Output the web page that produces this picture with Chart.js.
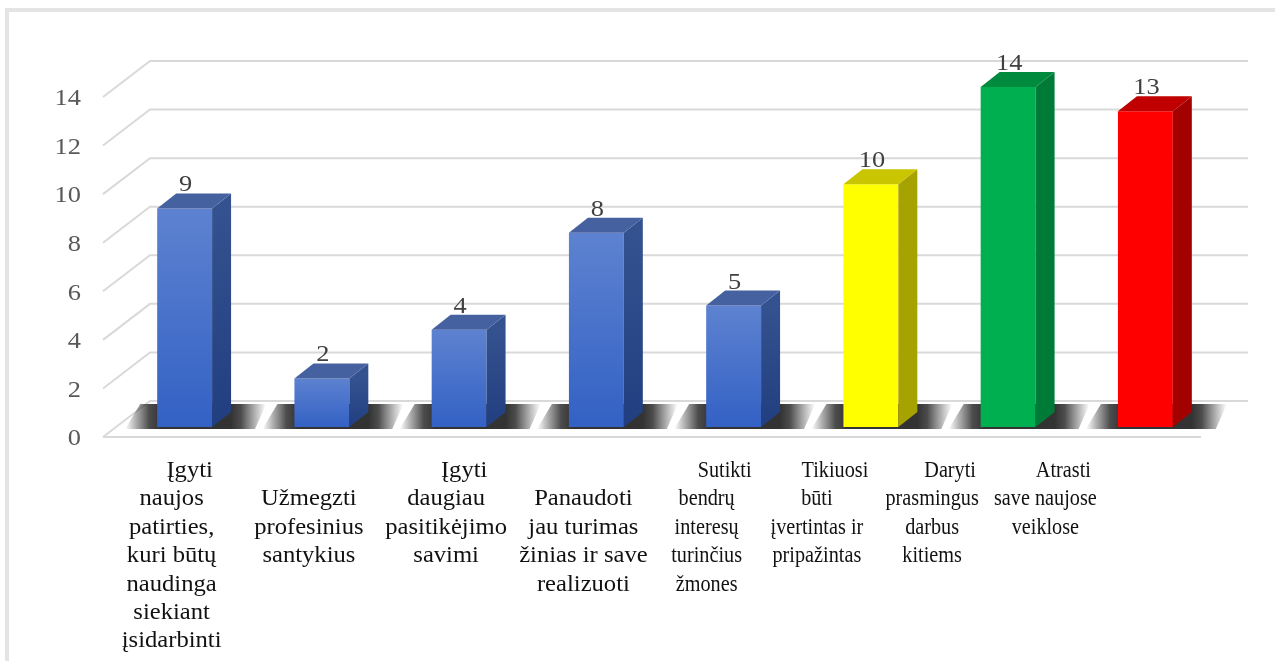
<!DOCTYPE html>
<html>
<head>
<meta charset="utf-8">
<script src="https://cdn.jsdelivr.net/npm/chart.js@4.4.0/dist/chart.umd.min.js"></script>
<style>
  html, body { margin: 0; padding: 0; background: #fff; }
  canvas { display: block; }
</style>
</head>
<body>
<canvas id="myChart" width="1275" height="661"></canvas>
<script>
const categories = [
  ['Įgyti', 'naujos', 'patirties,', 'kuri būtų', 'naudinga', 'siekiant', 'įsidarbinti'],
  ['Užmegzti', 'profesinius', 'santykius'],
  ['Įgyti', 'daugiau', 'pasitikėjimo', 'savimi'],
  ['Panaudoti', 'jau turimas', 'žinias ir save', 'realizuoti'],
  ['Sutikti', 'bendrų', 'interesų', 'turinčius', 'žmones'],
  ['Tikiuosi', 'būti', 'įvertintas ir', 'pripažintas'],
  ['Daryti', 'prasmingus', 'darbus', 'kitiems'],
  ['Atrasti', 'save naujose', 'veiklose']
]
const answers = [9, 2, 4, 8, 5, 10, 14, 13]
const yTicks = [0, 2, 4, 6, 8, 10, 12, 14]

// colours for the fake 3d bars
const blue = { front: ['#5d82d0', '#3361c4'], side: ['#34528f', '#213f80'], top: '#46619f' }
const yellow = { front: ['#ffff00', '#ffff00'], side: ['#a6a300', '#a6a300'], top: '#c9c500' }
const green = { front: ['#00b050', '#00b050'], side: ['#007a37', '#007a37'], top: '#008a3e' }
const red = { front: ['#ff0000', '#ff0000'], side: ['#a30000', '#a30000'], top: '#c00000' }
const barStyles = [blue, blue, blue, blue, blue, yellow, green, red]

const serif = "'Liberation Serif', 'Times New Roman', serif"
const DEPTH = { dx: 19, dy: 15 }
const FRONT = { dx: -13, dy: 10 }
const BACK = { dx: 34, dy: -26 }

const frontFill = c => {
  const chart = c.chart
  const s = barStyles[c.dataIndex] || blue
  if (c.type !== 'data' || !chart.chartArea) return s.front[1]
  const top = chart.scales.y.getPixelForValue(answers[c.dataIndex])
  const base = chart.scales.y.getPixelForValue(0)
  const g = chart.ctx.createLinearGradient(0, top, 0, base)
  g.addColorStop(0, s.front[0])
  g.addColorStop(1, s.front[1])
  return g
}

// text stretched sideways, like the original picture
const wideText = (ctx, text, x, y, stretch) => {
  ctx.save()
  ctx.translate(x, y)
  ctx.scale(stretch, 1)
  ctx.fillText(text, 0, 0)
  ctx.restore()
}

const scene3d = {
  id: 'scene3d',
  beforeDraw (chart) {
    const ctx = chart.ctx
    ctx.save()
    ctx.fillStyle = '#e4e4e4'
    ctx.fillRect(5, 8, 1270, 4)
    ctx.fillRect(5, 8, 4, 653)
    ctx.restore()
  },
  beforeDatasetsDraw (chart) {
    const { ctx, chartArea: a, scales: { y } } = chart
    const y0 = y.getPixelForValue(0)

    // walls and floor
    ctx.save()
    ctx.strokeStyle = '#d9d9d9'
    ctx.lineWidth = 2
    yTicks.forEach(v => {
      const py = y.getPixelForValue(v)
      ctx.beginPath()
      ctx.moveTo(a.left + FRONT.dx, py + FRONT.dy)
      ctx.lineTo(a.left + BACK.dx, py + BACK.dy)
      ctx.lineTo(a.right + BACK.dx, py + BACK.dy)
      ctx.stroke()
    })
    ctx.beginPath()
    ctx.moveTo(a.left + FRONT.dx, y0 + FRONT.dy)
    ctx.lineTo(a.right + FRONT.dx, y0 + FRONT.dy)
    ctx.stroke()
    ctx.restore()

    // shadows on the floor, faded sideways with a gradient
    const meta = chart.getDatasetMeta(0)
    const top = y0 + BACK.dy + 3
    const bottom = y0 + 2
    ctx.save()
    meta.data.forEach(bar => {
      const l = bar.x - bar.width / 2
      const r = bar.x + bar.width / 2 + DEPTH.dx
      const x0 = l - 32
      const x1 = r + 35
      const g = ctx.createLinearGradient(x0, 0, x1, 0)
      const p = v => (v - x0) / (x1 - x0)
      g.addColorStop(0, 'rgba(60,60,60,0)')
      g.addColorStop(p(l - 20), 'rgba(55,55,55,0.45)')
      g.addColorStop(p(l - 8), 'rgba(45,45,45,0.85)')
      g.addColorStop(p(l + 4), 'rgba(40,40,40,0.95)')
      g.addColorStop(p(r), 'rgba(40,40,40,0.95)')
      g.addColorStop(p(r + 10), 'rgba(45,45,45,0.85)')
      g.addColorStop(p(r + 22), 'rgba(55,55,55,0.45)')
      g.addColorStop(1, 'rgba(60,60,60,0)')
      ctx.fillStyle = g
      ctx.beginPath()
      ctx.moveTo(l - 32, bottom)
      ctx.lineTo(r + 24, bottom)
      ctx.lineTo(r + 35, top)
      ctx.lineTo(l - 17, top)
      ctx.closePath()
      ctx.fill()
    })
    ctx.restore()
  },
  afterDatasetsDraw (chart, args, opts) {
    const { ctx, scales: { x, y } } = chart
    const meta = chart.getDatasetMeta(0)

    // side and top faces
    meta.data.forEach((bar, i) => {
      const s = barStyles[i]
      const l = bar.x - bar.width / 2
      const r = bar.x + bar.width / 2
      const t = bar.y
      const b = bar.base
      const g = ctx.createLinearGradient(0, t, 0, b)
      g.addColorStop(0, s.side[0])
      g.addColorStop(1, s.side[1])
      ctx.save()
      ctx.fillStyle = g
      ctx.beginPath()
      ctx.moveTo(r, t)
      ctx.lineTo(r + DEPTH.dx, t - DEPTH.dy)
      ctx.lineTo(r + DEPTH.dx, b - DEPTH.dy)
      ctx.lineTo(r, b)
      ctx.closePath()
      ctx.fill()
      ctx.fillStyle = s.top
      ctx.beginPath()
      ctx.moveTo(l, t)
      ctx.lineTo(l + DEPTH.dx, t - DEPTH.dy)
      ctx.lineTo(r + DEPTH.dx, t - DEPTH.dy)
      ctx.lineTo(r, t)
      ctx.closePath()
      ctx.fill()
      ctx.restore()

      // value above bar
      ctx.save()
      ctx.font = '24px ' + serif
      ctx.fillStyle = '#404040'
      ctx.textAlign = 'center'
      ctx.textBaseline = 'alphabetic'
      wideText(ctx, String(answers[i]), bar.x + 1, t - DEPTH.dy - 2, 1.1)
      ctx.restore()
    })

    // y axis numbers
    ctx.save()
    ctx.font = '24px ' + serif
    ctx.fillStyle = '#595959'
    ctx.textAlign = 'right'
    ctx.textBaseline = 'middle'
    yTicks.forEach(v => {
      wideText(ctx, String(v), chart.chartArea.left + FRONT.dx - 22, y.getPixelForValue(v) + FRONT.dy + 2, 1.1)
    })
    ctx.restore()

    // category labels
    ctx.save()
    ctx.font = '23px ' + serif
    ctx.fillStyle = '#111'
    ctx.textAlign = 'center'
    ctx.textBaseline = 'alphabetic'
    categories.forEach((lines, i) => {
      const cx = x.getPixelForValue(i) + FRONT.dx + opts.nudge[i]
      lines.forEach((line, j) => {
        const row = j + opts.startRow[i]
        const indent = j === 0 && opts.startRow[i] === 0 ? opts.indent : 0
        wideText(ctx, line, cx + indent, opts.firstBaseline + row * opts.lineHeight, opts.stretch[i])
      })
    })
    ctx.restore()
  }
}

var ctx = document.getElementById('myChart').getContext('2d')
var chart = new Chart(ctx, {
  type: 'bar',
  data: {
    labels: categories,
    datasets: [{
      data: answers,
      backgroundColor: frontFill,
      borderWidth: 0,
      categoryPercentage: 1,
      barPercentage: 0.4
    }]
  },
  options: {
    responsive: false,
    animation: false,
    devicePixelRatio: 1,
    layout: { padding: { left: 116, right: 61, top: 87, bottom: 234 } },
    scales: {
      x: { display: false },
      y: { display: false, min: 0, max: 14 }
    },
    plugins: {
      legend: { display: false },
      tooltip: { enabled: false },
      scene3d: {
        startRow: [0, 1, 0, 1, 0, 0, 0, 0],
        nudge: [0, 0, 0, 0, -14, -41, -63, -87],
        stretch: [1.07, 1.07, 1.07, 1.07, 0.88, 0.88, 0.88, 0.88],
        indent: 18,
        firstBaseline: 477,
        lineHeight: 28.4
      }
    }
  },
  plugins: [scene3d]
})
</script>
</body>
</html>
